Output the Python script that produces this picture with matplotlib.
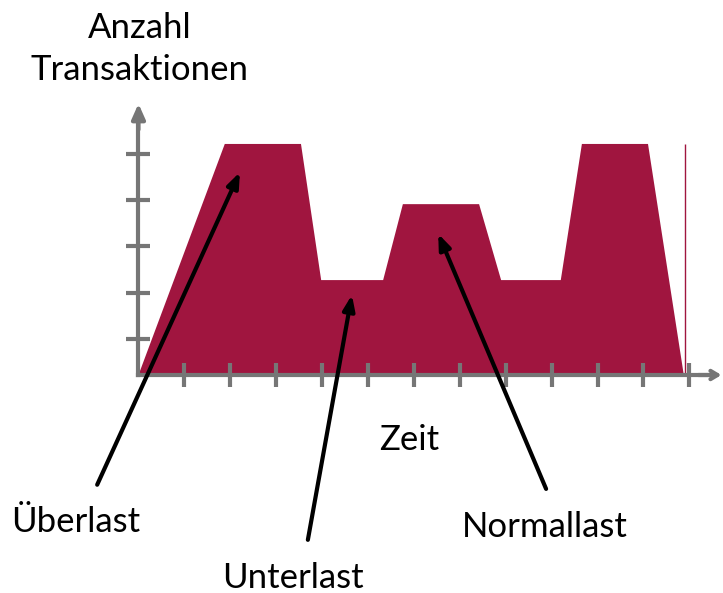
from matplotlib import pyplot as plt

# load profile outline (time units, transaction units)
zeit = [0.0, 1.88, 3.54, 3.98, 5.33, 5.76, 7.42, 7.90, 9.20, 9.66, 11.10, 11.88]
last = [0.0, 4.99, 4.99, 2.05, 2.05, 3.69, 3.69, 2.05, 2.05, 4.99, 4.99, 0.0]

x_ticks = list(range(1, 13))
y_ticks = [0.78, 1.78, 2.78, 3.78, 4.78]

# labels: text, text position, arrow tail, arrow tip
labels = ["Überlast", "Unterlast", "Normallast"]
label_pos = [(-1.36, -3.18), (3.37, -4.39), (8.86, -3.28)]
label_tail = [(-0.90, -2.37), (3.69, -3.56), (8.88, -2.46)]
label_tip = [(2.21, 4.38), (4.65, 1.73), (6.53, 3.05)]

FILL = "#a0153f"
GREY = "#767676"

fig = plt.figure(figsize=(7.23, 5.93), dpi=100)
ax = fig.add_axes([0, 0, 1, 1])
ax.set_xlim(-3.017, 12.734)
ax.set_ylim(-4.708, 8.099)

ax.fill(zeit, last, color=FILL, lw=0)
ax.vlines(zeit[-1] + 0.03, 0, last[-2], color=FILL, lw=1)

for side in ["top", "right"]:
    ax.spines[side].set_visible(False)
for side in ["left", "bottom"]:
    ax.spines[side].set_position(("data", 0))
    ax.spines[side].set_color(GREY)
    ax.spines[side].set_linewidth(3)
ax.spines["left"].set_bounds(0, 5.5)
ax.spines["bottom"].set_bounds(0, 12.4)
ax.set_xticks(x_ticks)
ax.set_yticks(y_ticks)
ax.tick_params(direction="inout", length=17, width=3, color=GREY,
               labelbottom=False, labelleft=False)

# axis arrow heads
ax.annotate("", xy=(0, 5.86), xytext=(0, 5.3),
            arrowprops=dict(arrowstyle="-|>,head_length=0.9,head_width=0.4",
                            color=GREY, lw=3, shrinkA=0, shrinkB=0))
ax.annotate("", xy=(12.7, 0), xytext=(12.2, 0),
            arrowprops=dict(arrowstyle="->,head_length=0.5,head_width=0.3",
                            color=GREY, lw=3, shrinkA=0, shrinkB=0))

font = dict(family=["Lato", "DejaVu Sans"], fontsize=25, color="black")
ax.text(0.03, 7.04, "Anzahl\nTransaktionen", ha="center", va="center",
        linespacing=1.35, **font)
ax.text(5.90, -1.4, "Zeit", ha="center", va="center", **font)

for text, pos, tail, tip in zip(labels, label_pos, label_tail, label_tip):
    ax.text(pos[0], pos[1], text, ha="center", va="center", **font)
    ax.annotate("", xy=tip, xytext=tail,
                arrowprops=dict(arrowstyle="-|>,head_length=0.9,head_width=0.35",
                                color="black", lw=3, shrinkA=0, shrinkB=0))

fig.savefig("out.png", dpi=100)
